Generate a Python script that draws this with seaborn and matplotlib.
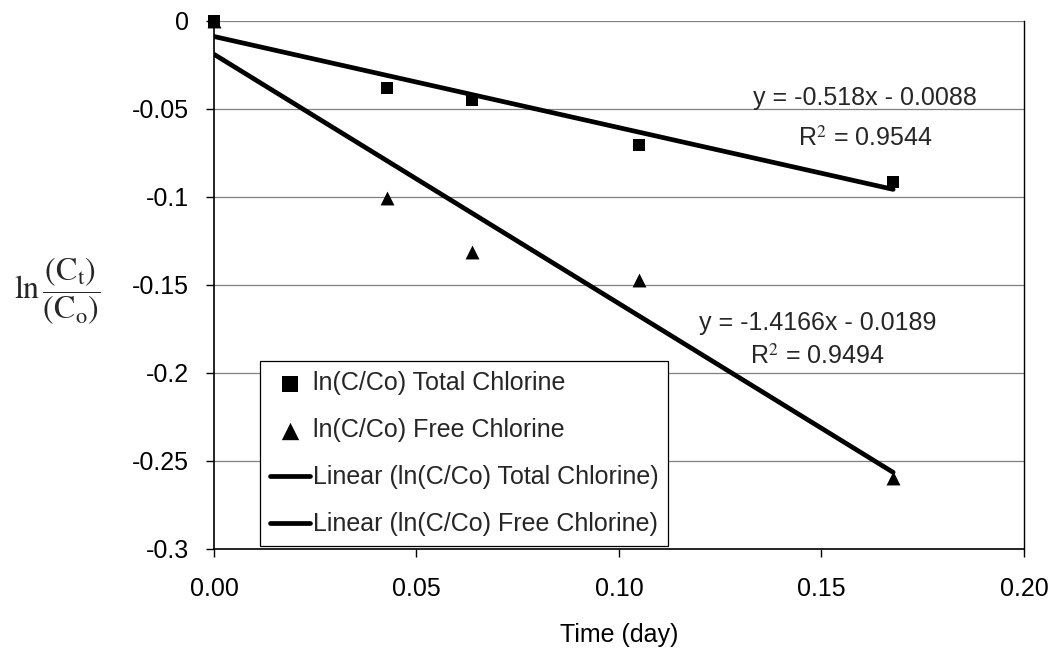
import numpy as np
import pandas as pd
import matplotlib
matplotlib.use("Agg")
import matplotlib.pyplot as plt
import seaborn as sns

# Sampling times (day) and log-ratio of residual chlorine
time_day = [0.0, 0.0427, 0.0637, 0.105, 0.1677]
ln_total = [0.0, -0.038, -0.045, -0.0705, -0.0915]
ln_free = [0.0, -0.1005, -0.131, -0.147, -0.2595]

# Linear trend fits (slope, intercept, R^2)
fit_total = (-0.518, -0.0088, 0.9544)
fit_free = (-1.4166, -0.0189, 0.9494)

label_total = "ln(C/Co) Total Chlorine"
label_free = "ln(C/Co) Free Chlorine"

FS = 18

sns.set_theme(style="white")
plt.rcParams["font.family"] = ["Liberation Sans", "DejaVu Sans"]
plt.rcParams["mathtext.fontset"] = "stix"

fig = plt.figure(figsize=(10.55, 6.52), dpi=100)
ax = fig.add_axes([0.2028, 0.158, 0.7678, 0.8098])

df = pd.DataFrame({"t": time_day, "total": ln_total, "free": ln_free})

# trend lines from the fitted equations over the sampled range
xs = np.array([0.0, max(time_day)])
lines = pd.DataFrame({
    "t": xs,
    "lt": fit_total[0] * xs + fit_total[1],
    "lf": fit_free[0] * xs + fit_free[1],
})

sns.scatterplot(data=df, x="t", y="free", marker="^", s=100, color="black",
                edgecolor="black", linewidth=0, ax=ax, label=label_free, zorder=4)
sns.scatterplot(data=df, x="t", y="total", marker="s", s=80, color="black",
                edgecolor="black", linewidth=0, ax=ax, label=label_total, zorder=5)
sns.lineplot(data=lines, x="t", y="lt", color="black", lw=3.4, ax=ax,
             label="Linear (" + label_total + ")", zorder=3)
sns.lineplot(data=lines, x="t", y="lf", color="black", lw=3.4, ax=ax,
             label="Linear (" + label_free + ")", zorder=3)
for coll in ax.collections:
    coll.set_clip_on(False)

ax.set_xlim(0, 0.20)
ax.set_ylim(-0.3, 0)
xt = [0, 0.05, 0.10, 0.15, 0.20]
ax.set_xticks(xt)
ax.set_xticklabels([f"{v:.2f}" for v in xt])
yt = [0, -0.05, -0.1, -0.15, -0.2, -0.25, -0.3]
ax.set_yticks(yt)
ax.set_yticklabels(["0", "-0.05", "-0.1", "-0.15", "-0.2", "-0.25", "-0.3"])
ax.tick_params(axis="both", labelsize=FS, colors="black", direction="out",
               length=6, width=1, left=True, bottom=True)
ax.tick_params(axis="x", pad=14)
ax.tick_params(axis="y", pad=12)
ax.yaxis.grid(True, color="#808080", lw=0.9)
ax.xaxis.grid(False)
ax.set_axisbelow(True)
for side, sp in ax.spines.items():
    sp.set_color("black")
    sp.set_linewidth(1.2 if side in ("left", "bottom") else 1.0)
ax.spines["top"].set_visible(False)

ax.set_xlabel("Time (day)", fontsize=FS, color="black", labelpad=16)
ax.set_ylabel("")
fig.text(0.054, 0.553, r"$\ln\dfrac{(\mathrm{C_t})}{(\mathrm{C_o})}$",
         fontsize=23, ha="center", va="center")

# legend: markers first, then trend lines
h, l = ax.get_legend_handles_labels()
order = [l.index(label_total), l.index(label_free),
         l.index("Linear (" + label_total + ")"), l.index("Linear (" + label_free + ")")]
leg = ax.legend([h[i] for i in order], [l[i] for i in order],
                loc="lower left", bbox_to_anchor=(0.057, 0.005),
                fontsize=FS, frameon=True, fancybox=False, framealpha=1,
                edgecolor="black", handlelength=1.6, handletextpad=0.1,
                borderpad=0.4, labelspacing=0.92, borderaxespad=0.0,
                markerscale=1.25)
leg.get_frame().set_linewidth(0.9)

ax.text(0.1607, -0.0437, f"y = {fit_total[0]}x - {abs(fit_total[1])}",
        fontsize=FS, ha="center", va="center")
ax.text(0.1607, -0.0665, r"R$^2$ = " + f"{fit_total[2]}",
        fontsize=FS, ha="center", va="center")
ax.text(0.149, -0.1715, f"y = {fit_free[0]}x - {abs(fit_free[1])}",
        fontsize=FS, ha="center", va="center")
ax.text(0.149, -0.1905, r"R$^2$ = " + f"{fit_free[2]}",
        fontsize=FS, ha="center", va="center")

fig.savefig("out.png", dpi=100)
